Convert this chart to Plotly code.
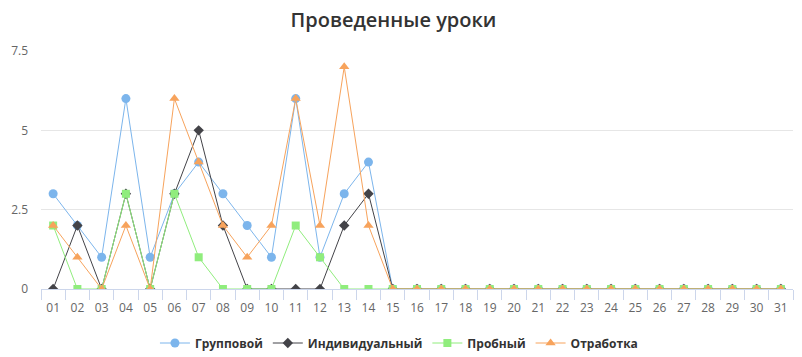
import plotly.graph_objects as go

days = [f"{i:02d}" for i in range(1, 32)]
group = [3, 2, 1, 6, 1, 3, 4, 3, 2, 1, 6, 1, 3, 4] + [0] * 17
individual = [0, 2, 0, 3, 0, 3, 5, 2, 0, 0, 0, 0, 2, 3] + [0] * 17
trial = [2, 0, 0, 3, 0, 3, 1, 0, 0, 0, 2, 1, 0, 0] + [0] * 17
makeup = [2, 1, 0, 2, 0, 6, 4, 2, 1, 2, 6, 2, 7, 2] + [0] * 17

series = [
    ("Групповой", group, "#7cb5ec", "circle", 9),
    ("Индивидуальный", individual, "#434348", "diamond", 8),
    ("Пробный", trial, "#90ed7d", "square", 8),
    ("Отработка", makeup, "#f7a35c", "triangle-up", 9),
]

fig = go.Figure()
for name, vals, color, sym, size in series:
    fig.add_trace(go.Scatter(
        x=days, y=vals, name=name, mode="lines+markers",
        line=dict(color=color, width=1),
        marker=dict(symbol=sym, size=size, color=color, line=dict(width=0)),
    ))

fig.update_layout(
    width=802, height=357,
    margin=dict(l=41, r=9, t=51, b=68, autoexpand=False),
    paper_bgcolor="white", plot_bgcolor="white",
    font=dict(family="Open Sans, DejaVu Sans, sans-serif", color="#666666", size=12),
    title=dict(text="Проведенные уроки", x=0.4906, xanchor="center", y=0.945, yanchor="middle",
               font=dict(size=20, color="#333333", weight=600,
                         family="Open Sans, DejaVu Sans, sans-serif")),
    showlegend=True,
    legend=dict(orientation="h", x=0.476, xanchor="center",
                yref="container", y=1 - 343 / 357, yanchor="middle",
                font=dict(size=12, color="#333333", weight="bold"),
                itemwidth=30, traceorder="normal"),
    xaxis=dict(type="category", categoryorder="array", categoryarray=days,
               showgrid=False, showline=True, linecolor="#ccd6eb", linewidth=1,
               ticks="outside", tickson="boundaries", ticklen=10, tickcolor="#ccd6eb",
               ticklabelstandoff=8,
               tickfont=dict(size=12, color="#666666"), zeroline=False,
               range=[-0.5, 30.5]),
    yaxis=dict(range=[0, 7.5], tickvals=[0, 2.5, 5, 7.5], ticktext=["0", "2.5", "5", "7.5"],
               showgrid=True, gridcolor="#e6e6e6", gridwidth=1, zeroline=False,
               showline=False, ticks="", ticklabelstandoff=12,
               tickfont=dict(size=12, color="#666666")),
)
fig.write_html("out.html", config={"displayModeBar": False},
               post_script="document.body.style.margin='0';document.body.style.overflow='hidden';")
